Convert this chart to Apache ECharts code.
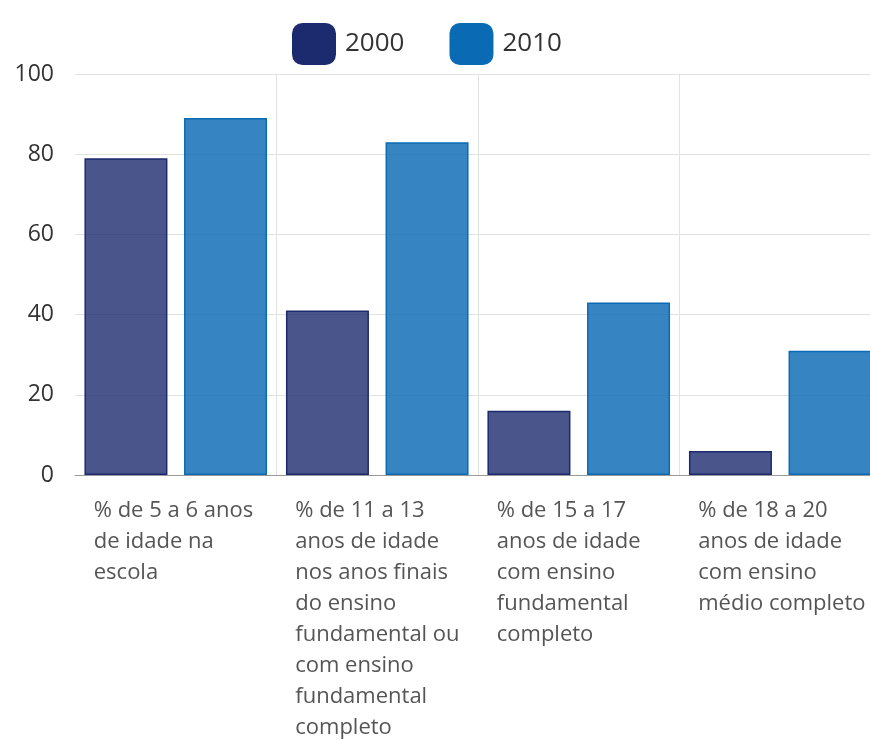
<!DOCTYPE html>
<html>
<head>
<meta charset="utf-8">
<script src="https://cdn.jsdelivr.net/npm/echarts@6/dist/echarts.min.js"></script>
<style>html,body{margin:0;padding:0;background:#fff;}#c{width:870px;height:740px;}</style>
</head>
<body>
<div id="c"></div>
<script>
var categories = [
  "% de 5 a 6 anos\nde idade na\nescola",
  "% de 11 a 13\nanos de idade\nnos anos finais\ndo ensino\nfundamental ou\ncom ensino\nfundamental\ncompleto",
  "% de 15 a 17\nanos de idade\ncom ensino\nfundamental\ncompleto",
  "% de 18 a 20\nanos de idade\ncom ensino\nmédio completo"
];
var seriesNames = ["2000", "2010"];
var values2000 = [79, 41, 16, 6];
var values2010 = [89, 83, 43, 31];
var yTicks = [0, 20, 40, 60, 80, 100];

var palette = ['#1c2a6e', '#0a6ab4'];
var font = "'Open Sans', 'Noto Sans', sans-serif";
var chart = echarts.init(document.getElementById('c'));
chart.setOption({
  animation: false,
  backgroundColor: '#ffffff',
  color: palette,
  legend: {
    top: 18,
    left: 287,
    icon: 'roundRect',
    itemWidth: 44,
    itemHeight: 42,
    itemGap: 45,
    textStyle: { fontFamily: font, fontSize: 26, color: '#333', padding: [0, 0, 0, 4] },
    data: seriesNames.map(function (n, i) {
      return { name: n, itemStyle: { color: palette[i], borderWidth: 0 } };
    })
  },
  grid: { left: 75, right: -11, top: 74, bottom: 265, containLabel: false, outerBoundsMode: 'none' },
  xAxis: {
    type: 'category',
    data: categories,
    axisLine: { show: true, lineStyle: { color: '#999', width: 1 } },
    axisTick: { show: false },
    splitLine: { show: true, showMinLine: false, lineStyle: { color: '#e2e2e2' } },
    axisLabel: {
      interval: 0,
      margin: 20,
      align: 'center',
      hideOverlap: false,
      formatter: function (v) { return '{a|' + v + '}'; },
      rich: {
        a: { width: 164, align: 'left', fontFamily: font, fontSize: 22, lineHeight: 31, color: '#555' }
      }
    }
  },
  yAxis: {
    type: 'value',
    min: yTicks[0],
    max: yTicks[yTicks.length - 1],
    interval: yTicks[1] - yTicks[0],
    axisLine: { show: false },
    axisTick: { show: false },
    splitLine: { show: true, lineStyle: { color: '#e2e2e2' } },
    axisLabel: { margin: 21, fontFamily: font, fontSize: 23, color: '#333' }
  },
  series: [
    {
      name: seriesNames[0], type: 'bar', data: values2000,
      barWidth: 83, barGap: '20%',
      itemStyle: { color: 'rgba(28,42,110,0.8)', borderColor: '#1c2a6e', borderWidth: 1.5 }
    },
    {
      name: seriesNames[1], type: 'bar', data: values2010,
      barWidth: 83, barGap: '20%',
      itemStyle: { color: 'rgba(10,106,180,0.82)', borderColor: '#0a6ab4', borderWidth: 1.5 }
    }
  ]
});
</script>
</body>
</html>
